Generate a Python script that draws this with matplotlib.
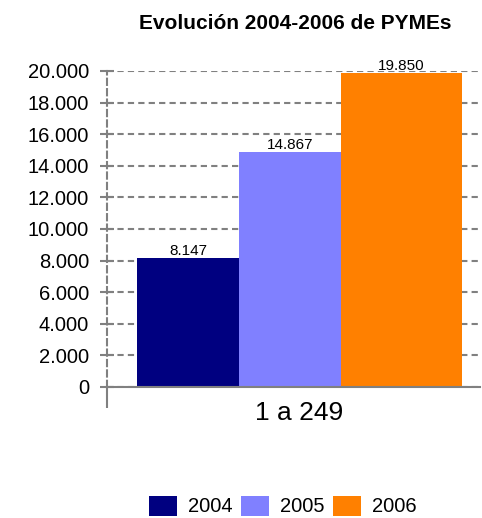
import numpy as np
import matplotlib
matplotlib.use("Agg")
import matplotlib.pyplot as plt
from matplotlib.ticker import FuncFormatter

plt.rcParams['font.family'] = ['Liberation Sans', 'DejaVu Sans']

years = ['2004', '2005', '2006']
values = [8147, 14867, 19850]
category = '1 a 249'
title = 'Evolución 2004-2006 de PYMEs'
colors = ['#000080', '#8080FF', '#FF8000']

def miles(v, pos=None):
    return '{:,.0f}'.format(v).replace(',', '.')

fig = plt.figure(figsize=(4.82, 5.18), dpi=100)
ax = fig.add_axes([107/482, 1-387/518, 373/482, (387-71)/518])

# layout of the bar group (pixel-like units across the axis)
widths = [102, 102, 121]
start = 30
lefts = start + np.concatenate([[0], np.cumsum(widths)[:-1]])
bars = ax.bar(lefts, values, width=widths, align='edge', color=colors,
              label=years, zorder=3)
for b, v in zip(bars, values):
    ax.text(b.get_x() + b.get_width()/2, v + 30, miles(v), ha='center',
            va='bottom', fontsize=11, zorder=4)

gris = '#808080'
ax.set_xlim(0, 373)
ax.set_ylim(0, 20000)
ax.set_yticks(np.arange(0, 20001, 2000))
ax.yaxis.set_major_formatter(FuncFormatter(miles))
ax.grid(axis='y', color=gris, lw=1.5, linestyle=(0, (3, 2)), zorder=1)
ax.set_xticks([start + sum(widths)/2])
ax.set_xticklabels([category], fontsize=19)
ax.set_xticks([0], minor=True)
ax.tick_params(axis='x', which='major', length=0, pad=10)
ax.tick_params(axis='x', which='minor', length=15, width=1.5, color=gris)
ax.tick_params(axis='y', direction='inout', length=10, width=1.5,
               color=gris, labelsize=14.5, pad=8)
for s in ['top', 'right']:
    ax.spines[s].set_visible(False)
ax.spines['left'].set_color(gris)
ax.spines['left'].set_linewidth(1.5)
ax.spines['left'].set_linestyle((0, (3, 2)))
ax.spines['bottom'].set_color(gris)
ax.spines['bottom'].set_linewidth(1.5)
ax.spines['bottom'].set_zorder(5)

fig.text(295/482, 1-29/518, title, ha='center', va='baseline',
         fontsize=15, fontweight='bold')

fig.legend(loc='center', bbox_to_anchor=(283/482, 1-506/518), ncol=3,
           frameon=False, fontsize=14.5, handlelength=1.4, handleheight=1.15,
           handletextpad=0.55, columnspacing=0.4, borderpad=0)

fig.savefig('out.png', dpi=100)
